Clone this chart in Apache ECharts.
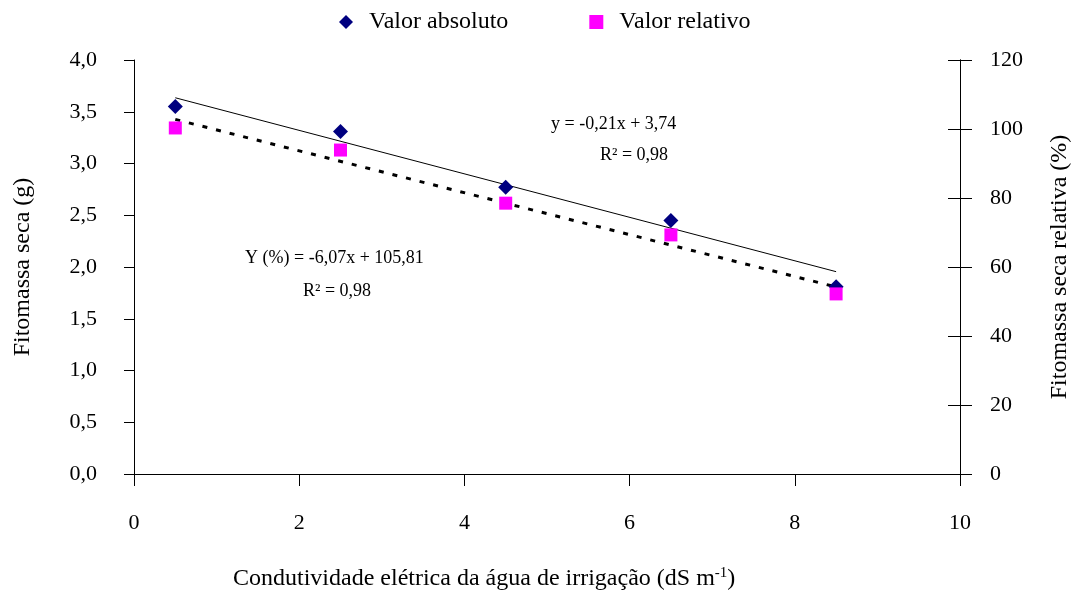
<!DOCTYPE html>
<html>
<head>
<meta charset="utf-8">
<script src="https://cdn.jsdelivr.net/npm/echarts@6/dist/echarts.min.js"></script>
<style>html,body{margin:0;padding:0;background:#fff;}#chart{width:1086px;height:596px;}</style>
</head>
<body>
<div id="chart"></div>
<script>
// Data
var conductivity = [0.5, 2.5, 4.5, 6.5, 8.5];
var absoluteValues = [3.55, 3.31, 2.77, 2.45, 1.81];
var relativeValues = [100.3, 93.9, 78.5, 69.3, 52.2];
var trendAbsX = [0.5, 8.5];
var trendAbsY = [3.635, 1.955];
var trendRelX = [0.5, 8.5];
var trendRelY = [102.78, 54.21];
var xTicks = [0, 2, 4, 6, 8, 10];
var leftTicks = ['0,0','0,5','1,0','1,5','2,0','2,5','3,0','3,5','4,0'];
var rightTicks = [0, 20, 40, 60, 80, 100, 120];

var FONT = '"Liberation Serif", "Times New Roman", serif';
function zip(a, b) { return a.map(function (v, i) { return [v, b[i]]; }); }

var chart = echarts.init(document.getElementById('chart'));
chart.setOption({
  animation: false,
  backgroundColor: '#fff',
  textStyle: { fontFamily: FONT, color: '#000' },
  grid: { left: 134, right: 126, top: 60, bottom: 122, containLabel: false },
  legend: {
    data: ['Valor absoluto', 'Valor relativo'],
    left: 334, top: 5,
    itemWidth: 14, itemHeight: 14, itemGap: 81,
    textStyle: { fontFamily: FONT, fontSize: 24, color: '#000', padding: [0, 0, 0, 11] }
  },
  xAxis: {
    type: 'value', min: 0, max: 10, interval: 2,
    axisLine: { show: true, lineStyle: { color: '#000', width: 1 } },
    axisTick: { show: true, length: 12, lineStyle: { color: '#000' } },
    splitLine: { show: false },
    axisLabel: { fontFamily: FONT, fontSize: 22, color: '#000', margin: 38,
      formatter: function (v) { return xTicks.indexOf(v) >= 0 ? String(v) : ''; } }
  },
  yAxis: [
    {
      type: 'value', min: 0, max: 4, interval: 0.5, position: 'left',
      axisLine: { show: true, onZero: false, lineStyle: { color: '#000' } },
      axisTick: { show: true, length: 10, lineStyle: { color: '#000' } },
      splitLine: { show: false },
      axisLabel: { fontFamily: FONT, fontSize: 22, color: '#000', margin: 37,
        formatter: function (v) { return leftTicks[Math.round(v / 0.5)]; } },
      name: 'Fitomassa seca (g)', nameLocation: 'middle', nameGap: 99,
      nameTextStyle: { fontFamily: FONT, fontSize: 24, color: '#000' }
    },
    {
      type: 'value', min: 0, max: 120, interval: 20, position: 'right',
      axisLine: { show: true, onZero: false, lineStyle: { color: '#000' } },
      axisTick: { show: true, length: 12, lineStyle: { color: '#000' } },
      splitLine: { show: false },
      axisLabel: { fontFamily: FONT, fontSize: 22, color: '#000', margin: 30,
        formatter: function (v) { return rightTicks.indexOf(v) >= 0 ? String(v) : ''; } },
      name: 'Fitomassa seca relativa (%)', nameLocation: 'middle', nameGap: 88,
      nameTextStyle: { fontFamily: FONT, fontSize: 24, color: '#000' }
    },
    {
      type: 'value', min: 0, max: 120, interval: 20, position: 'right',
      axisLine: { show: true, onZero: false, lineStyle: { color: '#000' } },
      axisTick: { show: true, inside: true, length: 12, lineStyle: { color: '#000' } },
      splitLine: { show: false },
      axisLabel: { show: false }
    }
  ],
  series: [
    {
      name: 'Valor absoluto', type: 'scatter', yAxisIndex: 0,
      symbol: 'diamond', symbolSize: 15,
      itemStyle: { color: '#000080', opacity: 1 },
      data: zip(conductivity, absoluteValues), z: 5
    },
    {
      name: 'Valor relativo', type: 'scatter', yAxisIndex: 1,
      symbol: 'rect', symbolSize: 13,
      itemStyle: { color: '#FF00FF', opacity: 1 },
      data: zip(conductivity, relativeValues), z: 6
    },
    {
      name: 'trendAbs', type: 'line', yAxisIndex: 0, showSymbol: false, symbol: 'none', silent: true,
      lineStyle: { color: '#000', width: 1, type: 'solid' },
      data: zip(trendAbsX, trendAbsY), z: 3
    },
    {
      name: 'trendRel', type: 'line', yAxisIndex: 1, showSymbol: false, symbol: 'none', silent: true,
      lineStyle: { color: '#000', width: 3, type: [5, 9] },
      data: zip(trendRelX, trendRelY), z: 3
    }
  ],
  graphic: [
    { type: 'text', left: 551, top: 115, style: { text: 'y = -0,21x + 3,74', font: '18px ' + FONT, fill: '#000' } },
    { type: 'text', left: 600, top: 146, style: { text: 'R² = 0,98', font: '18px ' + FONT, fill: '#000' } },
    { type: 'text', left: 245, top: 249, style: { text: 'Y (%) = -6,07x + 105,81', font: '18px ' + FONT, fill: '#000' } },
    { type: 'text', left: 303, top: 282, style: { text: 'R² = 0,98', font: '18px ' + FONT, fill: '#000' } },
    { type: 'text', left: 233, top: 566, style: {
        rich: {
          a: { fontFamily: FONT, fontSize: 24, color: '#000' },
          s: { fontFamily: FONT, fontSize: 15, color: '#000', verticalAlign: 'top', padding: [0, 0, 10, 0] }
        },
        text: '{a|Condutividade elétrica da água de irrigação (dS m}{s|-1}{a|)}'
      } }
  ]
});
</script>
</body>
</html>
